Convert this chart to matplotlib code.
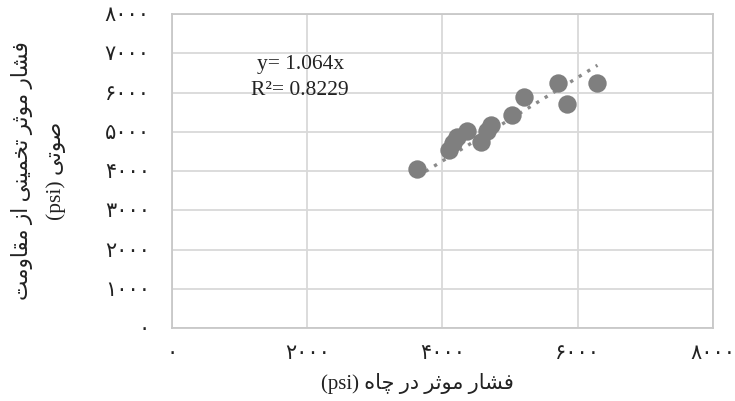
import numpy as np
import matplotlib
matplotlib.use("Agg")
import matplotlib.pyplot as plt

plt.rcParams['font.family'] = ['Liberation Serif', 'DejaVu Sans']

# داده‌ها (خوانده شده از نمودار)
x_vals = [3625, 4093, 4163, 4218, 4366, 4563, 4652, 4711, 5022, 5204, 5708, 5837, 6292]
y_vals = [4043, 4535, 4713, 4874, 5027, 4747, 5019, 5172, 5427, 5878, 6250, 5699, 6234]
slope = 1.064
r2 = 0.8229

x_ticks = [0, 2000, 4000, 6000, 8000]
y_ticks = [0, 1000, 2000, 3000, 4000, 5000, 6000, 7000, 8000]

x_title = "فشار موثر در چاه"
y_title_1 = "فشار موثر تخمینی از مقاومت"
y_title_2 = "صوتی"

# --- شکل‌دهی ساده حروف فارسی (matplotlib خودش این کار را نمی‌کند) ---
# iso, fin, ini, med
FORMS = {
    'ا': ('\uFE8D', '\uFE8E', None, None),
    'ر': ('\uFEAD', '\uFEAE', None, None),
    'ز': ('\uFEAF', '\uFEB0', None, None),
    'د': ('\uFEA9', '\uFEAA', None, None),
    'و': ('\uFEED', '\uFEEE', None, None),
    'ف': ('\uFED1', '\uFED2', '\uFED3', '\uFED4'),
    'ش': ('\uFEB5', '\uFEB6', '\uFEB7', '\uFEB8'),
    'م': ('\uFEE1', '\uFEE2', '\uFEE3', '\uFEE4'),
    'ث': ('\uFE99', '\uFE9A', '\uFE9B', '\uFE9C'),
    'ه': ('\uFEE9', '\uFEEA', '\uFEEB', '\uFEEC'),
    'ت': ('\uFE95', '\uFE96', '\uFE97', '\uFE98'),
    'خ': ('\uFEA5', '\uFEA6', '\uFEA7', '\uFEA8'),
    'ن': ('\uFEE5', '\uFEE6', '\uFEE7', '\uFEE8'),
    'ق': ('\uFED5', '\uFED6', '\uFED7', '\uFED8'),
    'ص': ('\uFEB9', '\uFEBA', '\uFEBB', '\uFEBC'),
    'چ': ('\uFB7A', '\uFB7B', '\uFB7C', '\uFB7D'),
    'ی': ('\uFBFC', '\uFBFD', '\uFBFE', '\uFBFF'),
}


def shape_rtl(text):
    out = []
    for i, ch in enumerate(text):
        if ch not in FORMS:
            out.append(ch)
            continue
        prev = text[i - 1] if i > 0 else ''
        nxt = text[i + 1] if i + 1 < len(text) else ''
        join_prev = prev in FORMS and FORMS[prev][2] is not None
        join_next = nxt in FORMS and FORMS[ch][2] is not None
        iso, fin, ini, med = FORMS[ch]
        if join_prev and join_next:
            out.append(med)
        elif join_prev:
            out.append(fin)
        elif join_next:
            out.append(ini)
        else:
            out.append(iso)
    return ''.join(reversed(out))


def fa_digits(n):
    return str(n).translate(str.maketrans('0123456789', '۰۱۲۳۴۵۶۷۸۹'))


fig = plt.figure(figsize=(7.35, 4.01), dpi=100)
ax = fig.add_axes([0.234, 0.182, 0.736, 0.783])

grid_c = '#d9d9d9'
txt_c = '#222222'
ax.set_xlim(0, 8000)
ax.set_ylim(0, 8000)
ax.set_xticks(x_ticks)
ax.set_yticks(y_ticks)
ax.set_xticklabels([fa_digits(v) for v in x_ticks])
ax.set_yticklabels([fa_digits(v) for v in y_ticks])
ax.tick_params(length=0, labelsize=15, colors=txt_c, pad=12)
ax.tick_params(axis='y', pad=16)
ax.grid(True, color=grid_c, linewidth=1.3)
ax.set_axisbelow(True)
for s in ax.spines.values():
    s.set_color('#c8c8c8')
    s.set_linewidth(1.3)

ax.scatter(x_vals, y_vals, s=175, color='#7f7f7f', zorder=3, linewidths=0)

xs = np.array([min(x_vals), max(x_vals)])
ax.plot(xs, slope * xs, linestyle=(0, (1, 2)), color='#8a8a8a', linewidth=2.4, zorder=2)

ax.text(0.237, 0.838, "y= %.3fx" % slope, transform=ax.transAxes, ha='center', va='center',
        fontsize=15.5, color=txt_c)
ax.text(0.237, 0.757, "R²= %.4f" % r2, transform=ax.transAxes, ha='center', va='center',
        fontsize=15.5, color=txt_c)

fig.text(0.568, 0.043, "(psi) " + shape_rtl(x_title), ha='center', va='center', fontsize=15,
         color=txt_c)
fig.text(0.030, 0.574, shape_rtl(y_title_1), rotation=90, ha='center', va='center', fontsize=15.5,
         color=txt_c)
fig.text(0.077, 0.574, "(psi) " + shape_rtl(y_title_2), rotation=90, ha='center', va='center',
         fontsize=15.5, color=txt_c)

fig.savefig("out.png", dpi=100)
